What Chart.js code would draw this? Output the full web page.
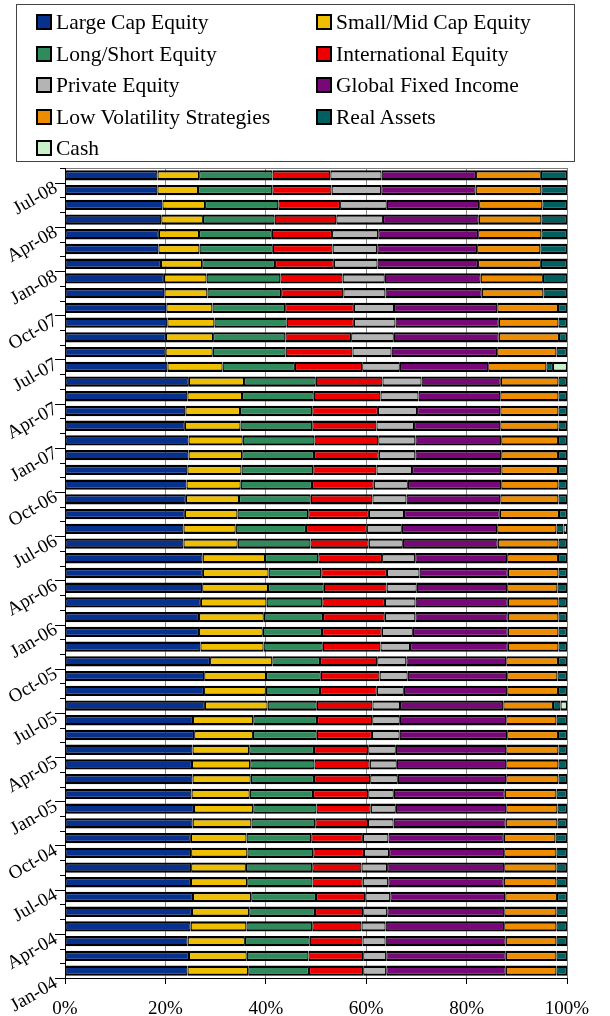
<!DOCTYPE html>
<html>
<head>
<meta charset="utf-8">
<script src="https://cdn.jsdelivr.net/npm/chart.js@4.4.1/dist/chart.umd.min.js"></script>
<style>
  body { margin: 0; background: #fff; }
  #wrap { position: relative; width: 610px; height: 1016px; }
  #leyenda {
    position: absolute; left: 16px; top: 4px; width: 557px; height: 156px;
    border: 1px solid #444; font-family: "Liberation Serif", serif; font-size: 21.5px; color: #000;
  }
  .item { position: absolute; height: 22px; line-height: 22px; white-space: nowrap; }
  .item span.cuadro {
    position: absolute; left: 0; top: 3px; width: 16px; height: 16px;
    box-sizing: border-box; border: 2px solid #000;
  }
  .item span.txt { position: absolute; left: 20px; top: 0; }
</style>
</head>
<body>
<div id="wrap">
  <canvas id="grafica" width="610" height="1016"></canvas>
  <div id="leyenda"></div>
</div>
<script>
// Meses (Jan-04 .. Jul-08), de abajo hacia arriba
const meses = [
  'Jan-04','Feb-04','Mar-04','Apr-04','May-04','Jun-04','Jul-04','Aug-04','Sep-04','Oct-04','Nov-04','Dec-04',
  'Jan-05','Feb-05','Mar-05','Apr-05','May-05','Jun-05','Jul-05','Aug-05','Sep-05','Oct-05','Nov-05','Dec-05',
  'Jan-06','Feb-06','Mar-06','Apr-06','May-06','Jun-06','Jul-06','Aug-06','Sep-06','Oct-06','Nov-06','Dec-06',
  'Jan-07','Feb-07','Mar-07','Apr-07','May-07','Jun-07','Jul-07','Aug-07','Sep-07','Oct-07','Nov-07','Dec-07',
  'Jan-08','Feb-08','Mar-08','Apr-08','May-08','Jun-08','Jul-08'
];

// Porcentajes por clase de activo
const largeCap = [24.4,24.7,24.4,25.0,25.3,25.5,25.1,25.1,25.1,25.1,25.4,25.7,
  25.2,25.4,25.3,25.4,25.7,25.5,27.9,27.7,27.7,28.9,27.0,26.7,
  26.7,27.1,27.3,27.5,27.4,23.6,23.6,23.9,24.1,24.2,24.4,24.6,
  24.6,23.9,24.0,24.4,24.7,20.4,20.0,20.1,20.4,20.2,19.8,19.7,
  19.1,18.6,18.7,19.2,19.4,18.4,18.4];
const smallMid = [12.1,11.5,11.4,11.1,11.4,11.6,11.2,10.9,11.2,11.1,11.7,11.8,
  11.6,11.6,11.6,11.3,11.7,12.0,12.5,12.3,12.3,12.4,12.6,12.7,
  12.9,13.1,13.1,13.1,12.4,10.8,10.4,10.5,10.6,10.8,10.8,10.7,
  10.8,11.1,10.9,10.9,11.0,11.0,9.4,9.4,9.4,9.2,8.6,8.5,
  8.2,8.2,8.0,8.3,8.5,8.1,8.3];
const longShort = [12.1,12.3,12.9,13.1,13.1,12.9,13.0,13.2,13.1,12.9,12.7,12.6,
  12.6,12.6,12.8,12.9,12.7,12.7,9.8,10.8,10.9,9.5,11.8,11.8,
  11.8,11.1,11.1,10.5,10.6,14.5,14.0,14.1,14.3,14.2,14.3,14.3,
  14.3,14.3,14.4,14.3,14.3,14.4,14.5,14.4,14.4,14.5,14.7,14.7,
  14.5,14.6,14.5,14.3,14.6,14.8,14.6];
const international = [10.8,10.9,10.5,9.8,9.6,9.8,10.0,9.8,10.1,10.3,10.5,10.8,
  11.0,11.2,11.0,10.8,11.0,11.0,11.1,11.3,11.7,11.4,11.5,11.9,
  12.3,12.5,12.5,13.1,12.7,11.6,12.1,12.1,12.3,12.3,12.6,12.9,
  12.7,12.8,13.1,13.3,13.3,13.4,13.3,13.1,13.4,13.7,12.4,12.4,
  11.7,11.9,12.0,12.3,12.3,11.8,11.5];
const privateEq = [4.6,4.6,4.6,4.8,4.8,5.0,5.1,5.1,5.0,5.1,5.1,5.0,
  5.1,5.5,5.4,5.5,5.5,5.5,5.5,5.4,5.6,5.8,5.9,6.2,
  6.1,6.1,6.0,6.5,6.6,6.8,7.0,7.0,6.8,6.8,7.1,7.3,
  7.4,7.5,7.8,7.6,7.8,7.5,7.8,8.5,8.3,8.0,8.4,8.4,
  8.7,8.9,9.2,9.3,9.3,9.9,10.2];
const globalFI = [23.8,23.8,23.9,23.6,23.3,22.9,23.0,23.3,22.9,23.0,22.3,22.0,
  22.1,21.6,21.8,22.0,21.4,21.2,20.6,20.6,19.8,19.9,19.5,18.9,
  18.4,18.4,18.0,17.6,18.3,18.9,19.0,19.1,18.7,18.6,17.8,17.1,
  17.1,17.2,16.6,16.3,15.8,17.6,21.0,20.9,20.6,20.6,19.2,19.1,
  20.0,19.9,19.9,19.1,18.4,18.8,18.8];
const lowVol = [10.1,10.1,10.1,10.4,10.4,10.3,10.5,10.4,10.4,10.3,10.3,10.2,
  10.3,10.4,10.4,10.4,10.1,10.0,9.9,10.1,10.0,10.3,10.1,10.1,
  10.1,10.1,10.0,10.1,10.1,12.1,11.8,11.8,11.6,11.4,11.3,11.3,
  11.3,11.6,11.6,11.6,11.5,11.6,11.8,12.0,11.9,12.1,12.3,12.4,
  12.5,12.6,12.6,12.5,12.6,13.1,12.9];
const realAssets = [2.1,2.1,2.1,2.1,2.1,2.0,2.1,2.1,2.1,2.3,1.9,1.9,
  2.1,1.7,1.7,1.7,1.8,2.1,1.5,1.8,1.9,1.8,1.7,1.7,
  1.7,1.7,1.9,1.7,1.8,1.7,1.4,1.6,1.7,1.7,1.8,1.8,
  1.8,1.7,1.7,1.7,1.7,1.3,2.1,1.6,1.7,1.8,4.7,4.8,
  5.2,5.3,5.1,5.1,4.9,5.1,5.2];
const cash = [0,0,0,0,0,0,0,0,0,0,0,0,
  0,0,0,0,0,0,1.3,0,0,0,0,0,
  0,0,0,0,0,0,0.7,0,0,0,0,0,
  0,0,0,0,0,2.8,0,0,0,0,0,0,
  0,0,0,0,0,0,0];

const ticksX = [0, 20, 40, 60, 80, 100];

const series = [
  { nombre: 'Large Cap Equity', datos: largeCap, color: '#07318F' },
  { nombre: 'Small/Mid Cap Equity', datos: smallMid, color: '#EEBE00' },
  { nombre: 'Long/Short Equity', datos: longShort, color: '#2F8B5C' },
  { nombre: 'International Equity', datos: international, color: '#EE0000' },
  { nombre: 'Private Equity', datos: privateEq, color: '#B4B4B4' },
  { nombre: 'Global Fixed Income', datos: globalFI, color: '#780878' },
  { nombre: 'Low Volatility Strategies', datos: lowVol, color: '#EE8C00' },
  { nombre: 'Real Assets', datos: realAssets, color: '#005F5F' },
  { nombre: 'Cash', datos: cash, color: '#C8F2C8' }
];

// 100% apilado: cada mes se normaliza a su total
const totales = meses.map((m, i) => series.reduce((s, se) => s + se.datos[i], 0));

const FUENTE = '"Liberation Serif", "Times New Roman", serif';

// Leyenda en dos columnas (texto real en HTML)
const leyenda = document.getElementById('leyenda');
series.forEach((se, i) => {
  const col = i % 2, fila = Math.floor(i / 2);
  const d = document.createElement('div');
  d.className = 'item';
  d.style.left = (col === 0 ? 19 : 299) + 'px';
  d.style.top = (6 + fila * 31.5) + 'px';
  d.innerHTML = '<span class="cuadro" style="background:' + se.color + '"></span><span class="txt"></span>';
  d.querySelector('.txt').textContent = se.nombre;
  leyenda.appendChild(d);
});

// Etiquetas y marcas del eje de categorias
const ejeMeses = {
  id: 'ejeMeses',
  beforeDatasetsDraw(chart) {
    const a = chart.chartArea, ctx = chart.ctx;
    ctx.save();
    ctx.strokeStyle = '#7a7a7a';
    ctx.lineWidth = 1;
    ctx.beginPath();
    ctx.moveTo(a.left, a.top + 0.5);
    ctx.lineTo(a.right + 0.5, a.top + 0.5);
    ctx.lineTo(a.right + 0.5, a.bottom);
    ctx.stroke();
    ctx.restore();
  },
  afterDraw(chart) {
    const y = chart.scales.y, a = chart.chartArea, ctx = chart.ctx;
    const sp = Math.abs(y.getPixelForValue(0) - y.getPixelForValue(1));
    ctx.save();
    ctx.strokeStyle = '#000';
    ctx.lineWidth = 1;
    ctx.beginPath();
    ctx.moveTo(a.left + 0.5, a.top);
    ctx.lineTo(a.left + 0.5, a.bottom + 6);
    for (let k = 0; k <= meses.length; k++) {
      const py = k < meses.length ? y.getPixelForValue(k) + sp / 2 : y.getPixelForValue(k - 1) - sp / 2;
      const largo = k % 3 === 0 ? 10 : 5;
      ctx.moveTo(a.left - largo, Math.round(py) + 0.5);
      ctx.lineTo(a.left, Math.round(py) + 0.5);
    }
    ctx.stroke();

    ctx.fillStyle = '#000';
    ctx.font = '19px ' + FUENTE;
    ctx.textAlign = 'right';
    ctx.textBaseline = 'middle';
    meses.forEach((m, k) => {
      if (k % 3 !== 0) return;
      const py = y.getPixelForValue(k) + sp / 2;
      ctx.save();
      ctx.translate(a.left - 9, py + 4);
      ctx.rotate(-30 * Math.PI / 180);
      ctx.fillText(m, 0, 0);
      ctx.restore();
    });
    ctx.restore();
  }
};

new Chart(document.getElementById('grafica'), {
  type: 'bar',
  data: {
    labels: meses,
    datasets: series.map(se => ({
      label: se.nombre,
      data: se.datos.map((v, i) => v / totales[i] * 100),
      backgroundColor: se.color,
      borderColor: '#000',
      borderWidth: { top: 2.4, bottom: 2.4, left: 1.2, right: 1.2 },
      borderSkipped: false,
      barPercentage: 0.7,
      categoryPercentage: 1.0
    }))
  },
  options: {
    indexAxis: 'y',
    responsive: false,
    animation: false,
    devicePixelRatio: 1,
    layout: { padding: { top: 168, left: 65, right: 43, bottom: 0 } },
    plugins: {
      legend: { display: false },
      tooltip: { enabled: false }
    },
    scales: {
      x: {
        type: 'linear',
        stacked: true,
        min: 0,
        max: 100,
        afterBuildTicks: (sc) => { sc.ticks = ticksX.map(v => ({ value: v })); },
        afterFit: (sc) => { sc.height = 38; },
        ticks: {
          callback: v => v + '%',
          color: '#000',
          font: { family: FUENTE, size: 19 },
          padding: 14,
          maxRotation: 0
        },
        grid: { color: '#8a8a8a', lineWidth: 1, tickLength: 6, tickColor: '#000' },
        border: { color: '#000', width: 1 }
      },
      y: {
        type: 'category',
        stacked: true,
        reverse: true,
        offset: true,
        afterFit: (sc) => { sc.width = 0; },
        ticks: { display: false },
        grid: { display: false },
        border: { display: false }
      }
    }
  },
  plugins: [ejeMeses]
});
</script>
</body>
</html>
